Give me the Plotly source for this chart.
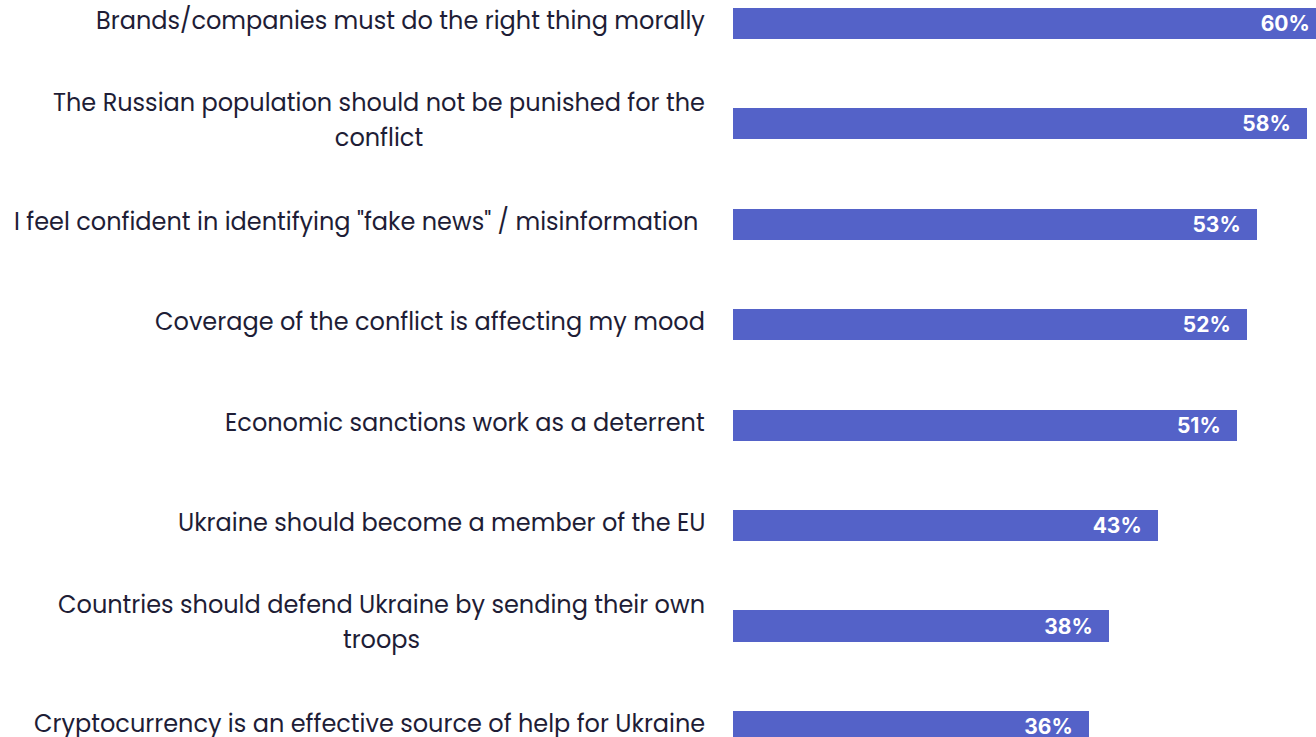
import plotly.graph_objects as go

# Survey statements (top to bottom) and share of respondents agreeing
statements = [
    "Brands/companies must do the right thing morally",
    "The Russian population should not be punished for the<br>conflict",
    "I feel confident in identifying \"fake news\" / misinformation\u00a0",
    "Coverage of the conflict is affecting my mood",
    "Economic sanctions work as a deterrent",
    "Ukraine should become a member of the EU",
    "Countries should defend Ukraine by sending their own<br>troops",
    "Cryptocurrency is an effective source of help for Ukraine",
]
agree_pct = [60, 58, 53, 52, 51, 43, 38, 36]
value_labels = [f"{v}%" for v in agree_pct]

BAR_COLOR = "#5462C8"
TEXT_COLOR = "#1E1D36"
LABEL_SIZE = 24
LINE_BASE = 27          # larger base size opens up the gap between wrapped lines
END_PAD = "\u00a0\u00a0\u2009"

fig = go.Figure()
fig.add_trace(go.Bar(
    x=agree_pct,
    y=list(range(len(statements))),
    orientation="h",
    width=0.31,
    marker=dict(color=BAR_COLOR, line=dict(width=0)),
    text=[t + END_PAD for t in value_labels],
    textposition="inside",
    insidetextanchor="end",
    textfont=dict(family="Inter, Liberation Sans, sans-serif", size=21, color="white", weight="bold"),
    constraintext="none",
    hoverinfo="skip",
))

# Statement labels, each line centred, block right-aligned against the bars
for i, s in enumerate(statements):
    lines = s.split("<br>")
    if len(lines) > 1:
        txt = "<br>".join(f"<span style='font-size:{LABEL_SIZE}px'>{ln}</span>" for ln in lines)
        size = LINE_BASE
        ys = 4
    else:
        txt = s
        size = LABEL_SIZE
        ys = 3
    fig.add_annotation(
        x=0, xref="paper", xanchor="right", xshift=-26,
        y=i, yref="y", yanchor="middle", yshift=ys,
        text=txt, align="center", showarrow=False,
        font=dict(family="Poppins, DejaVu Sans, sans-serif", size=size, color=TEXT_COLOR),
    )

fig.update_layout(
    width=1316, height=737,
    margin=dict(l=733, r=0, t=0, b=0),
    paper_bgcolor="white", plot_bgcolor="white",
    showlegend=False,
    bargap=0,
    xaxis=dict(range=[0, 58.95], visible=False, fixedrange=True),
    yaxis=dict(range=[7.105, -0.234], visible=False, fixedrange=True),
)

fig.write_html("out.html")
